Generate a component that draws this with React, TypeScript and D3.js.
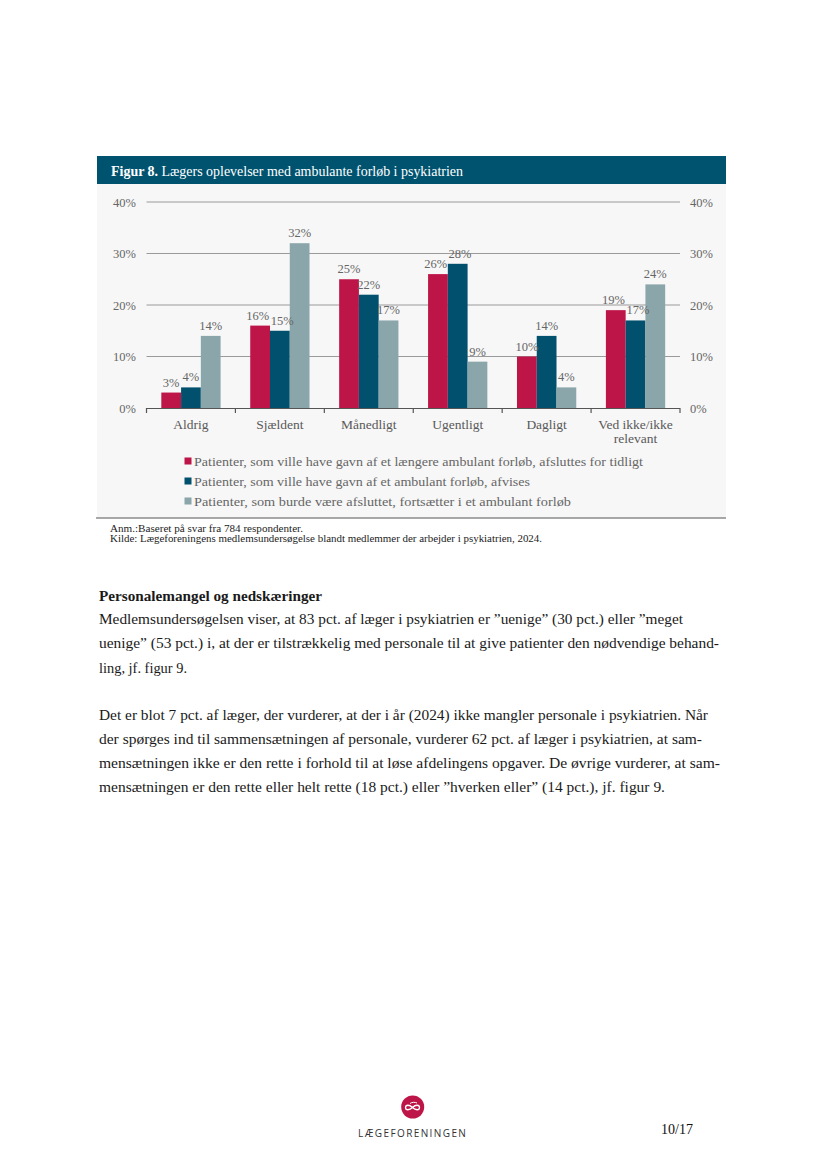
import React from "react";
import * as d3 from "d3";

const categories = ["Aldrig", "Sjældent", "Månedligt", "Ugentligt", "Dagligt", "Ved ikke/ikke relevant"];
const categoryLines = [["Aldrig"], ["Sjældent"], ["Månedligt"], ["Ugentligt"], ["Dagligt"], ["Ved ikke/ikke", "relevant"]];
const seriesNames = [
  "Patienter, som ville have gavn af et længere ambulant forløb, afsluttes for tidligt",
  "Patienter, som ville have gavn af et ambulant forløb, afvises",
  "Patienter, som burde være afsluttet, fortsætter i et ambulant forløb",
];
const seriesA = [3, 16, 25, 26, 10, 19];
const seriesB = [4, 15, 22, 28, 14, 17];
const seriesC = [14, 32, 17, 9, 4, 24];
const yTicks = [0, 10, 20, 30, 40];
const colors = ["#be1549", "#00506e", "#8ba6aa"];

const title = "Lægers oplevelser med ambulante forløb i psykiatrien";
const noteLines = [
  "Anm.:Baseret på svar fra 784 respondenter.",
  "Kilde: Lægeforeningens medlemsundersøgelse blandt medlemmer der arbejder i psykiatrien, 2024.",
];
const heading = "Personalemangel og nedskæringer";
const para1 = [
  "Medlemsundersøgelsen viser, at 83 pct. af læger i psykiatrien er ”uenige” (30 pct.) eller ”meget",
  "uenige” (53 pct.) i, at der er tilstrækkelig med personale til at give patienter den nødvendige behand-",
  "ling, jf. figur 9.",
];
const para2 = [
  "Det er blot 7 pct. af læger, der vurderer, at der i år (2024) ikke mangler personale i psykiatrien. Når",
  "der spørges ind til sammensætningen af personale, vurderer 62 pct. af læger i psykiatrien, at sam-",
  "mensætningen ikke er den rette i forhold til at løse afdelingens opgaver. De øvrige vurderer, at sam-",
  "mensætningen er den rette eller helt rette (18 pct.) eller ”hverken eller” (14 pct.), jf. figur 9.",
];
const para1Widths = [584, 620, 88];
const para2Widths = [609, 603, 621, 566];
const legendWidths = [449, 336, 377];

const FONT = "'Liberation Serif', 'Times New Roman', serif";
const LABEL_FS = 12.5;

function labelWidth(s: string) {
  // approximate width in Liberation Serif: digits 0.5em, % 0.833em
  let w = 0;
  for (const ch of s) w += ch === "%" ? 0.833 : 0.5;
  return w * LABEL_FS;
}

export default function App() {
  const series = [seriesA, seriesB, seriesC];
  const x0 = d3.scaleBand<string>().domain(categories).range([146.5, 680]).paddingInner(0).paddingOuter(0);
  const x1 = d3.scaleBand<number>().domain([0, 1, 2]).range([0, x0.bandwidth()]).paddingInner(0).paddingOuter(0.75);
  const y = d3.scaleLinear().domain([0, 40]).range([408, 202]);
  const boundaries = [...categories.map((c) => x0(c) as number), 680];

  // compute label positions with a small horizontal nudge where neighbours collide
  const labels = categories.map((c, ci) => {
    const items = series.map((s, si) => {
      const v = s[ci];
      const bx = (x0(c) as number) + (x1(si) as number);
      return { v, text: `${v}%`, cx: bx + x1.bandwidth() / 2, y: y(v) - 6 };
    });
    for (let i = 0; i < items.length - 1; i++) {
      const a = items[i];
      const b = items[i + 1];
      if (Math.abs(a.y - b.y) < 12) {
        const need = (labelWidth(a.text) + labelWidth(b.text)) / 2 + 1.5;
        const have = b.cx - a.cx;
        if (have < need) {
          const d = (need - have) / 2;
          a.cx -= d;
          b.cx += d;
        }
      }
    }
    return items;
  });

  return (
    <svg width={827} height={1169} style={{ position: "absolute", left: 0, top: 0, display: "block" }} fontFamily={FONT}>
      <rect x={0} y={0} width={827} height={1169} fill="#ffffff" />
      {/* title bar */}
      <rect x={97} y={156} width={629} height={28} fill="#00536f" />
      <text x={111} y={175.5} fontSize={14} fill="#ffffff" textLength={352} lengthAdjust="spacingAndGlyphs">
        <tspan fontWeight="bold">Figur 8.</tspan>
        <tspan> {title}</tspan>
      </text>
      {/* chart background */}
      <rect x={97} y={184} width={629} height={334} fill="#f7f7f7" />
      <line x1={96} x2={726} y1={518} y2={518} stroke="#555" strokeWidth={1.2} />

      {/* grid */}
      {yTicks.filter((t) => t > 0).map((t) => (
        <line key={t} x1={146.5} x2={680} y1={y(t)} y2={y(t)} stroke="#9a9a9a" strokeWidth={1} />
      ))}
      {yTicks.map((t) => (
        <g key={"l" + t}>
          <text x={136} y={y(t) + 4.5} fontSize={12.5} fill="#666" textAnchor="end">{t}%</text>
          <text x={690} y={y(t) + 4.5} fontSize={12.5} fill="#666">{t}%</text>
        </g>
      ))}

      {/* bars */}
      {categories.map((c, ci) => (
        <g key={c}>
          {series.map((s, si) => {
            const bx = (x0(c) as number) + (x1(si) as number);
            const v = s[ci];
            return <rect key={si} x={bx} y={y(v)} width={x1.bandwidth()} height={y(0) - y(v)} fill={colors[si]} />;
          })}
          {labels[ci].map((l, si) => (
            <text key={"t" + si} x={l.cx} y={l.y} fontSize={LABEL_FS} fill="#666" textAnchor="middle">{l.text}</text>
          ))}
        </g>
      ))}

      {/* x axis */}
      <line x1={146.5} x2={680} y1={408.5} y2={408.5} stroke="#555" strokeWidth={1.2} />
      {boundaries.map((b, i) => (
        <line key={i} x1={b} x2={b} y1={408} y2={413} stroke="#555" strokeWidth={1.2} />
      ))}
      {categories.map((c, ci) => (
        <text key={c} x={(x0(c) as number) + x0.bandwidth() / 2} y={428.5} fontSize={13.5} fill="#595959" textAnchor="middle">
          {categoryLines[ci].map((ln, li) => (
            <tspan key={li} x={(x0(c) as number) + x0.bandwidth() / 2} dy={li === 0 ? 0 : 14}>{ln}</tspan>
          ))}
        </text>
      ))}

      {/* legend */}
      {seriesNames.map((n, i) => (
        <g key={n}>
          <rect x={184.5} y={457.5 + i * 20} width={7} height={7} fill={colors[i]} />
          <text x={194} y={466 + i * 20} fontSize={13.5} fill="#666" textLength={legendWidths[i]} lengthAdjust="spacingAndGlyphs">{n}</text>
        </g>
      ))}

      {/* notes */}
      <text x={110} y={532} fontSize={9.5} fill="#222" textLength={193} lengthAdjust="spacingAndGlyphs">{noteLines[0]}</text>
      <text x={110} y={542} fontSize={9.5} fill="#222" textLength={432} lengthAdjust="spacingAndGlyphs">{noteLines[1]}</text>

      {/* body text */}
      <text x={99} y={600.5} fontSize={15} fontWeight="bold" fill="#1a1a1a" textLength={223} lengthAdjust="spacingAndGlyphs">{heading}</text>
      {para1.map((ln, i) => (
        <text key={ln} x={99} y={624 + i * 24.3} fontSize={15} fill="#1a1a1a" textLength={para1Widths[i]} lengthAdjust="spacingAndGlyphs">{ln}</text>
      ))}
      {para2.map((ln, i) => (
        <text key={ln} x={99} y={720 + i * 24} fontSize={15} fill="#1a1a1a" textLength={para2Widths[i]} lengthAdjust="spacingAndGlyphs">{ln}</text>
      ))}

      {/* footer logo */}
      <circle cx={412.7} cy={1107} r={11.5} fill="#be1549" />
      <path d="M405.5,1107.5 c0,-3 4,-3 7,0 c3,3 7,3 7,0 c0,-3 -4,-3 -7,0 c-3,3 -7,3 -7,0 z" fill="none" stroke="#fff" strokeWidth={1.3} />
      <path d="M410,1103.5 c2,-1.5 5,-1.5 7,-0.5" fill="none" stroke="#fff" strokeWidth={1} />
      <text x={412.7} y={1137} fontSize={10} fill="#333" textAnchor="middle" fontFamily="'Open Sans', 'DejaVu Sans', sans-serif" letterSpacing={1.4}>LÆGEFORENINGEN</text>
      <text x={661} y={1134} fontSize={14} fill="#111" textLength={32} lengthAdjust="spacingAndGlyphs">10/17</text>
    </svg>
  );
}
